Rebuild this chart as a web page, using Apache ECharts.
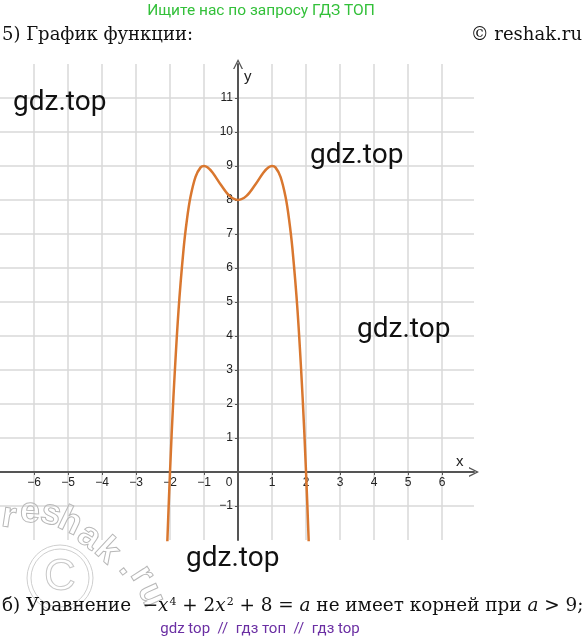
<!DOCTYPE html>
<html>
<head>
<meta charset="utf-8">
<script src="https://cdn.jsdelivr.net/npm/echarts@6/dist/echarts.min.js"></script>
<style>
  html, body { margin: 0; padding: 0; background: #fff; }
  #chart { width: 585px; height: 644px; }
</style>
</head>
<body>
<div id="chart"></div>
<script>
// точки графика y = -x^4 + 2x^2 + 8
const curveX = [-2.08, -2, -1.9, -1.75, -1.6, -1.5, -1.4, -1.25, -1.1, -1, -0.9, -0.75, -0.5, -0.25, 0,
  0.25, 0.5, 0.75, 0.9, 1, 1.1, 1.25, 1.4, 1.5, 1.6, 1.75, 1.9, 2, 2.08]
const curveY = [-2.07, 0, 2.19, 4.75, 6.57, 7.44, 8.08, 8.68, 8.96, 9, 8.96, 8.81, 8.44, 8.12, 8,
  8.12, 8.44, 8.81, 8.96, 9, 8.96, 8.68, 8.08, 7.44, 6.57, 4.75, 2.19, 0, -2.07]

const xMin = -7, xMax = 6.94
const yMin = -2, yMax = 12

const gridLeft = 0, gridTop = 64, gridW = 474, gridH = 476
// оси проходят через ноль, подписи идут вместе с ними
const xAxisOffset = -((0 - yMin) / (yMax - yMin)) * gridH
const yAxisOffset = -((0 - xMin) / (xMax - xMin)) * gridW

const arrow = 'path://M0,10 L5,0 L10,10 L8.6,10 L5,2.8 L1.4,10 Z'

const chart = echarts.init(document.getElementById('chart'))

const fmt = (v) => {
  if (Math.abs(v - Math.round(v)) > 1e-6) return ''
  return String(v).replace('-', '\u2212')
}

// буквы водяного знака reshak.ru по дуге
const wmLetters = [
  ['r', 9, 517, -0.15], ['e', 30, 512, -0.05], ['s', 51, 514, -0.25], ['h', 70, 522, -0.45],
  ['a', 89, 537, -0.6], ['k', 107, 551, -0.75], ['.', 129, 567, -0.9], ['r', 142, 575, -1.0],
  ['u', 151, 595, -1.15]
]

const tickFont = { color: '#222', fontSize: 12, fontFamily: 'Liberation Sans' }

const option = {
  backgroundColor: '#fff',
  animation: false,
  grid: { left: gridLeft, top: gridTop, width: gridW, height: gridH, outerBoundsMode: 'none', containLabel: false },
  xAxis: {
    type: 'value',
    min: xMin,
    max: xMax,
    interval: 1,
    position: 'bottom',
    offset: xAxisOffset,
    name: 'x',
    nameLocation: 'end',
    nameGap: -18,
    nameTextStyle: { color: '#222', fontSize: 15, fontFamily: 'Liberation Sans', verticalAlign: 'bottom', align: 'left', padding: [0, 0, 3, 0] },
    axisLine: {
      onZero: false,
      symbol: ['none', arrow],
      symbolSize: [10, 10],
      lineStyle: { color: '#555', width: 2 }
    },
    axisTick: { show: true, length: 3, lineStyle: { color: '#555' } },
    axisLabel: {
      ...tickFont,
      margin: 5,
      showMinLabel: false,
      showMaxLabel: false,
      formatter: (v) => (v === 0 ? '{z|0}' : fmt(v)),
      rich: { z: { ...tickFont, padding: [0, 18, 0, 0] } }
    },
    splitLine: { show: true, showMinLine: false, showMaxLine: false, lineStyle: { color: '#d9d9d9', width: 1.5 } }
  },
  yAxis: {
    type: 'value',
    min: yMin,
    max: yMax,
    interval: 1,
    position: 'left',
    offset: yAxisOffset,
    name: 'y',
    nameLocation: 'end',
    nameGap: -20,
    nameTextStyle: { color: '#222', fontSize: 15, fontFamily: 'Liberation Sans', align: 'left', verticalAlign: 'bottom', padding: [0, 0, 0, 6] },
    axisLine: {
      onZero: false,
      symbol: ['none', arrow],
      symbolSize: [10, 10],
      lineStyle: { color: '#555', width: 2 }
    },
    axisTick: { show: true, length: 3, lineStyle: { color: '#555' } },
    axisLabel: {
      ...tickFont,
      margin: 5,
      showMinLabel: false,
      showMaxLabel: false,
      formatter: (v) => (v === 0 ? '' : fmt(v))
    },
    splitLine: { show: true, showMinLine: false, showMaxLine: false, lineStyle: { color: '#d9d9d9', width: 1.5 } }
  },
  series: [
    {
      type: 'line',
      data: curveX.map((x, i) => [x, curveY[i]]),
      showSymbol: false,
      smooth: 0.35,
      clip: true,
      lineStyle: { color: '#d9772f', width: 2.5 }
    }
  ],
  graphic: [
    // верхние надписи
    { type: 'text', x: 261, y: 11, style: { text: 'Ищите нас по запросу ГДЗ ТОП', fill: '#33c03a', font: '15.5px Roboto', align: 'center', verticalAlign: 'middle' } },
    { type: 'text', x: 2, y: 35, style: { text: '5) График функции:', fill: '#111', font: '18px "DejaVu Serif"', verticalAlign: 'middle' } },
    { type: 'text', x: 582, y: 35, style: { text: '© reshak.ru', fill: '#111', font: '18px "DejaVu Serif"', align: 'right', verticalAlign: 'middle' } },
    // водяные знаки gdz.top
    { type: 'text', x: 13, y: 103, z: 10, style: { text: 'gdz.top', fill: '#111', font: '28px Roboto', verticalAlign: 'middle' } },
    { type: 'text', x: 310, y: 156, z: 10, style: { text: 'gdz.top', fill: '#111', font: '28px Roboto', verticalAlign: 'middle' } },
    { type: 'text', x: 357, y: 330, z: 10, style: { text: 'gdz.top', fill: '#111', font: '28px Roboto', verticalAlign: 'middle' } },
    { type: 'text', x: 186, y: 559, z: 10, style: { text: 'gdz.top', fill: '#111', font: '28px Roboto', verticalAlign: 'middle' } },
    // знак © reshak
    { type: 'circle', shape: { cx: 60, cy: 578, r: 33 }, z: 5, style: { fill: 'none', stroke: '#cfcfcf', lineWidth: 1 } },
    { type: 'circle', shape: { cx: 60, cy: 578, r: 29 }, z: 5, style: { fill: 'none', stroke: '#cfcfcf', lineWidth: 1 } },
    { type: 'text', x: 60, y: 578, z: 5, style: { text: 'C', fill: 'none', stroke: '#c8c8c8', lineWidth: 1, font: '44px "Liberation Sans"', align: 'center', verticalAlign: 'middle' } },
    ...wmLetters.map(([ch, x, y, r]) => ({
      type: 'text', x, y, rotation: r, z: 5,
      style: { text: ch, fill: 'none', stroke: '#b8b8b8', lineWidth: 1, font: 'bold 36px "Liberation Sans"', align: 'center', verticalAlign: 'middle' }
    })),
    // нижние надписи
    {
      type: 'text', x: 2, y: 606, z: 10,
      style: {
        text: '{n|б) Уравнение  −}{i|x}{s|4}{n| + 2}{i|x}{s|2}{n| + 8 = }{i|a}{n| не имеет корней при }{i|a}{n| > 9;}',
        verticalAlign: 'middle',
        rich: {
          n: { font: '18.4px "DejaVu Serif"', fill: '#111' },
          i: { font: 'italic 18.4px "DejaVu Serif"', fill: '#111' },
          s: { font: '11px "DejaVu Serif"', fill: '#111', verticalAlign: 'top', padding: [0, 0, 8, 1] }
        }
      }
    },
    { type: 'text', x: 260, y: 629, style: { text: 'gdz top  //  гдз топ  //  гдз top', fill: '#6b2fa3', font: '15px Roboto', align: 'center', verticalAlign: 'middle' } }
  ]
}

chart.setOption(option)
</script>
</body>
</html>
